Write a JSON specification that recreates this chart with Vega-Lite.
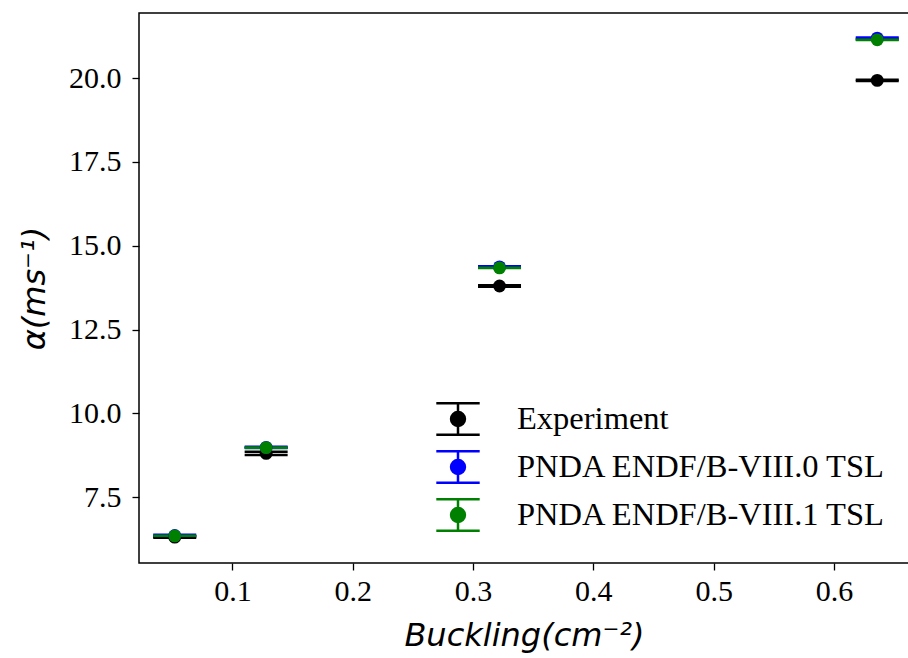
{
  "$schema": "https://vega.github.io/schema/vega-lite/v6.json",
  "width": 770,
  "height": 550,
  "autosize": {"type": "none"},
  "padding": {"left": 139, "top": 13, "right": 0, "bottom": 95},
  "config": {
    "view": {"stroke": "black", "strokeWidth": 1.5},
    "axis": {
      "grid": false,
      "domain": false,
      "tickColor": "black",
      "tickWidth": 1.3,
      "tickSize": 7,
      "labelFont": "Liberation Serif",
      "labelFontSize": 30,
      "labelColor": "black",
      "titleFont": "DejaVu Sans",
      "titleFontSize": 32,
      "titleFontStyle": "italic",
      "titleFontWeight": "normal",
      "titleColor": "black"
    }
  },
  "data": {
    "values": [
      {"series": "Experiment", "b": 0.052, "a": 6.31, "lo": 6.29, "hi": 6.33},
      {"series": "Experiment", "b": 0.128, "a": 8.81, "lo": 8.76, "hi": 8.86},
      {"series": "Experiment", "b": 0.322, "a": 13.80, "lo": 13.78, "hi": 13.82},
      {"series": "Experiment", "b": 0.636, "a": 19.93, "lo": 19.91, "hi": 19.95},
      {"series": "PNDA ENDF/B-VIII.0 TSL", "b": 0.052, "a": 6.36, "lo": 6.34, "hi": 6.38},
      {"series": "PNDA ENDF/B-VIII.0 TSL", "b": 0.128, "a": 8.99, "lo": 8.97, "hi": 9.01},
      {"series": "PNDA ENDF/B-VIII.0 TSL", "b": 0.322, "a": 14.37, "lo": 14.35, "hi": 14.39},
      {"series": "PNDA ENDF/B-VIII.0 TSL", "b": 0.636, "a": 21.19, "lo": 21.17, "hi": 21.21},
      {"series": "PNDA ENDF/B-VIII.1 TSL", "b": 0.052, "a": 6.35, "lo": 6.345, "hi": 6.355},
      {"series": "PNDA ENDF/B-VIII.1 TSL", "b": 0.128, "a": 8.98, "lo": 8.975, "hi": 8.985},
      {"series": "PNDA ENDF/B-VIII.1 TSL", "b": 0.322, "a": 14.34, "lo": 14.335, "hi": 14.345},
      {"series": "PNDA ENDF/B-VIII.1 TSL", "b": 0.636, "a": 21.14, "lo": 21.135, "hi": 21.145}
    ]
  },
  "encoding": {
    "x": {
      "field": "b",
      "type": "quantitative",
      "scale": {"domain": [0.0223, 0.6624], "nice": false, "zero": false},
      "axis": {"values": [0.1, 0.2, 0.3, 0.4, 0.5, 0.6], "format": ".1f", "title": "Buckling(cm⁻²)", "titlePadding": 14, "labelPadding": 6}
    },
    "color": {
      "field": "series",
      "type": "nominal",
      "scale": {"domain": ["Experiment", "PNDA ENDF/B-VIII.0 TSL", "PNDA ENDF/B-VIII.1 TSL"], "range": ["#000000", "#0000ff", "#008000"]},
      "legend": {
        "title": null,
        "orient": "none",
        "legendX": 296,
        "legendY": 383,
        "symbolType": "M-1,-0.73H1M-1,0.73H1M0,-0.73V0.73M-0.32,0A0.32,0.32,0,1,0,0.32,0A0.32,0.32,0,1,0,-0.32,0Z",
        "symbolSize": 1884,
        "symbolStrokeWidth": 2.5,
        "symbolOpacity": 1,
        "labelFont": "Liberation Serif",
        "labelFontSize": 32.5,
        "labelColor": "black",
        "labelOffset": 36,
        "labelLimit": 700,
        "rowPadding": 4,
        "padding": 0,
        "encode": {
          "symbols": {
            "update": {
              "stroke": {"scale": "color", "field": "value"},
              "fill": {"scale": "color", "field": "value"},
              "strokeWidth": {"value": 2.5},
              "opacity": {"value": 1}
            }
          }
        }
      }
    }
  },
  "layer": [
    {
      "mark": {"type": "rule", "strokeWidth": 2.5, "opacity": 1},
      "encoding": {
        "y": {
          "field": "lo",
          "type": "quantitative",
          "scale": {"domain": [5.54, 21.94], "nice": false, "zero": false},
          "axis": {"values": [7.5, 10, 12.5, 15, 17.5, 20], "format": ".1f", "title": "α(ms⁻¹)", "titlePadding": 17, "labelPadding": 11}
        },
        "y2": {"field": "hi"}
      }
    },
    {
      "mark": {"type": "tick", "orient": "horizontal", "size": 43, "thickness": 2.5, "opacity": 1},
      "encoding": {"y": {"field": "lo", "type": "quantitative"}}
    },
    {
      "mark": {"type": "tick", "orient": "horizontal", "size": 43, "thickness": 2.5, "opacity": 1},
      "encoding": {"y": {"field": "hi", "type": "quantitative"}}
    },
    {
      "mark": {"type": "point", "shape": "circle", "filled": true, "size": 165, "opacity": 1},
      "encoding": {"y": {"field": "a", "type": "quantitative"}}
    }
  ]
}
